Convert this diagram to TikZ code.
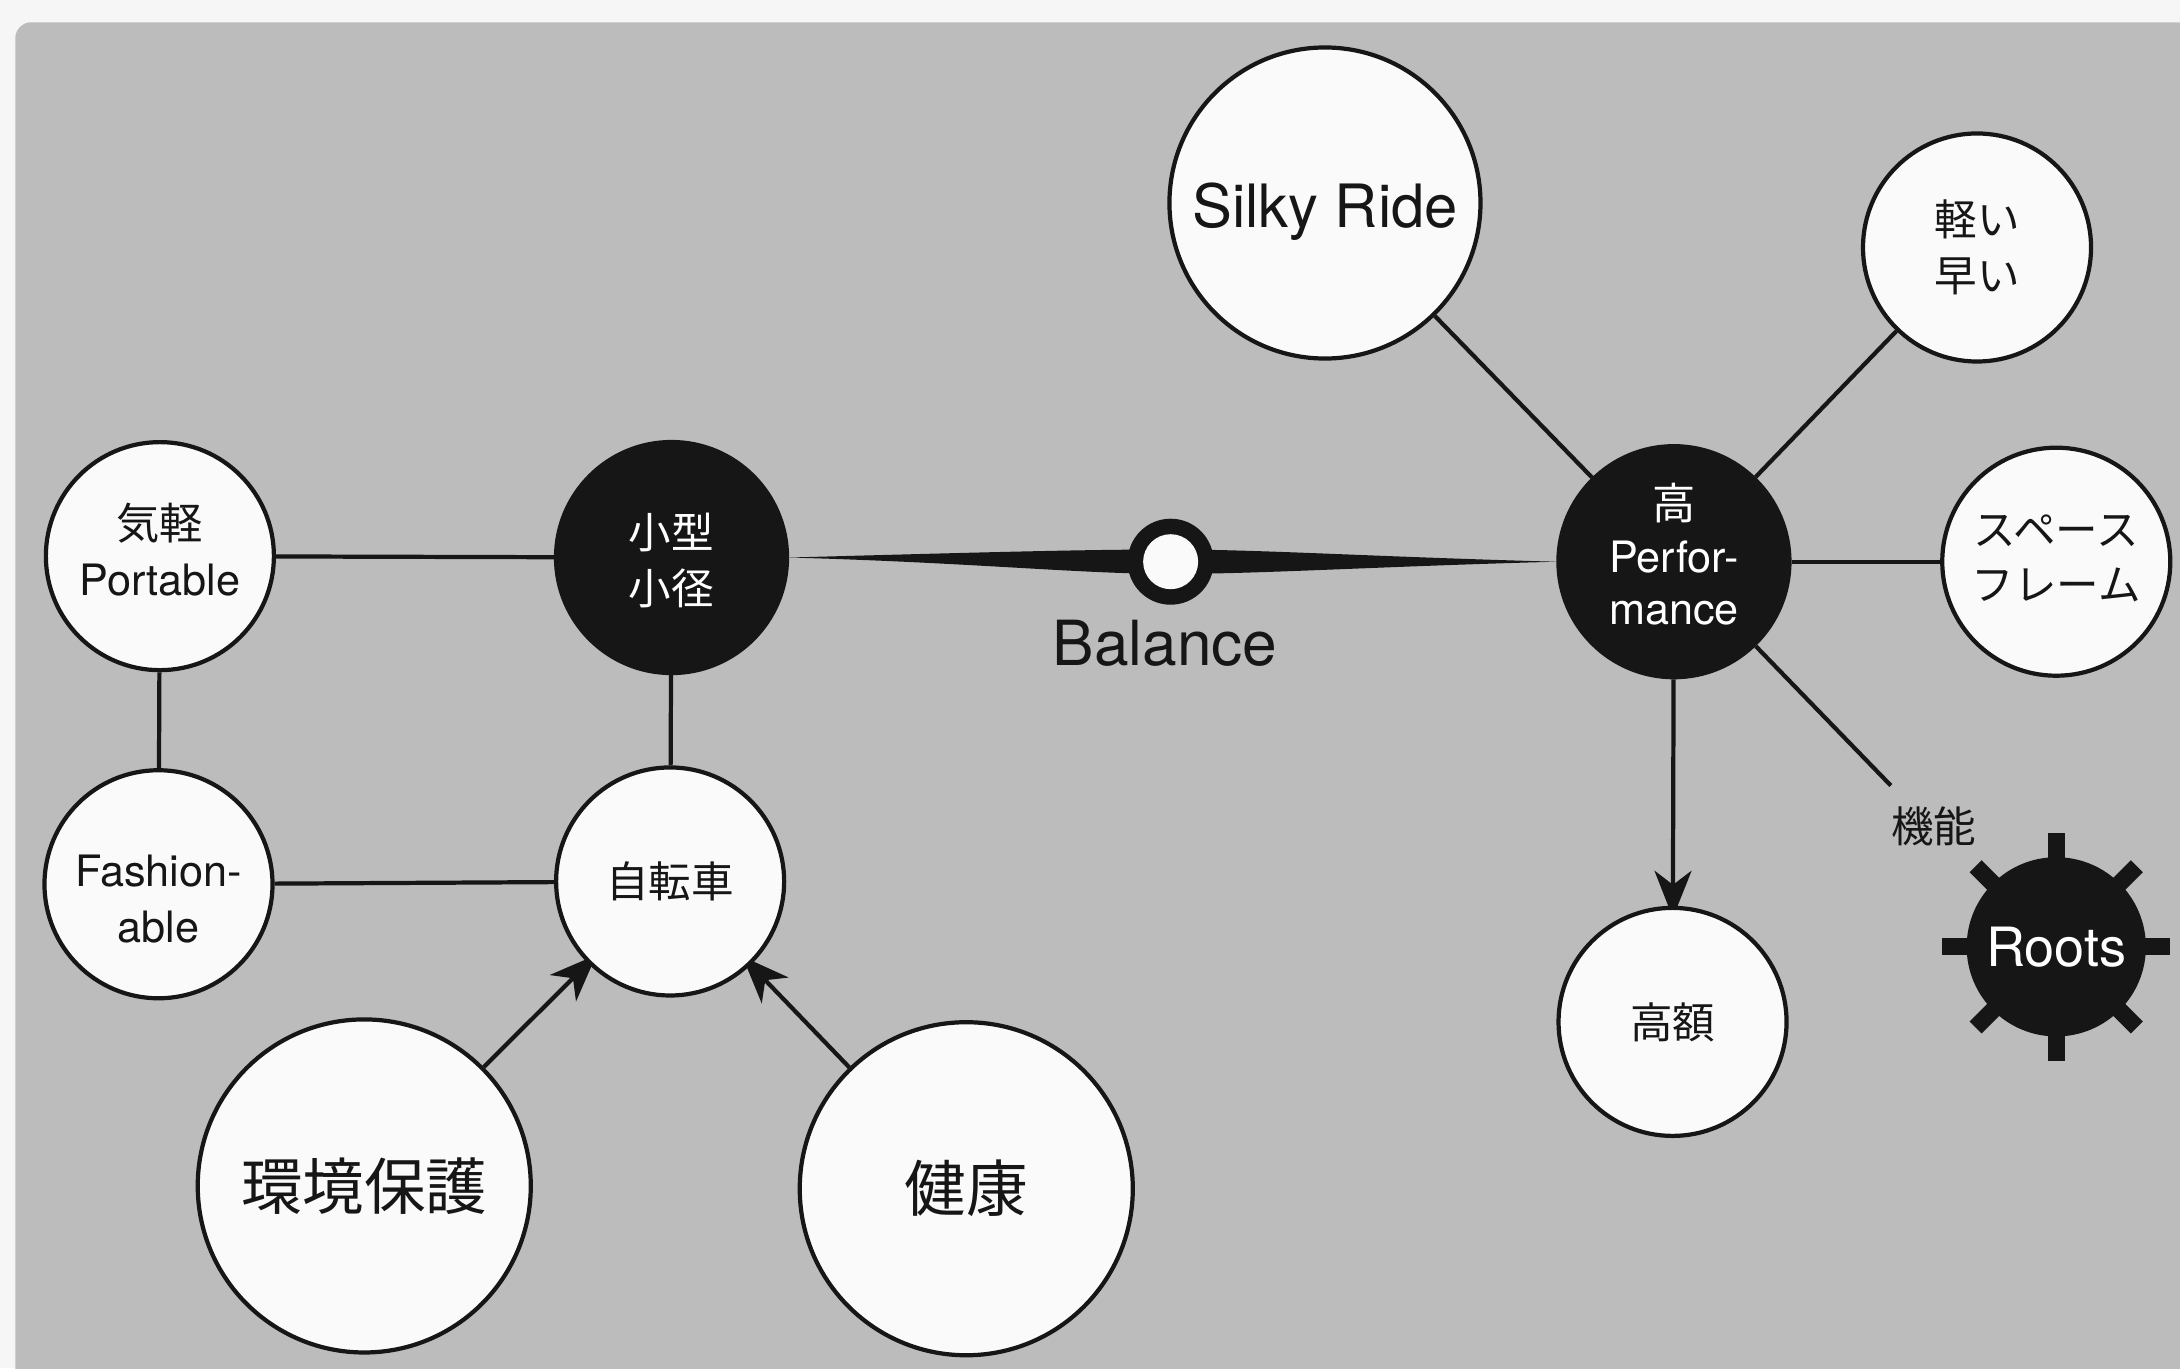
\documentclass[tikz,border=0pt]{standalone}
\usepackage{fontspec}
\setmainfont{TeX Gyre Heros}
\newfontfamily\jp{Noto Sans CJK JP}
\usetikzlibrary{arrows.meta,calc}
\pgfdeclarelayer{back}
\pgfdeclarelayer{bg}
\pgfsetlayers{back,bg,main}
\definecolor{panel}{RGB}{188,188,188}
\definecolor{paper}{RGB}{246,246,246}
\definecolor{ink}{RGB}{22,22,22}
\definecolor{bubble}{RGB}{250,250,250}
% move a text block up (#1 = twice the shift) or down inside its node
\newcommand\txtup[2]{\raisebox{0pt}[\height][\dimexpr\depth+#1\relax]{\begin{tabular}{@{}c@{}}#2\end{tabular}}}
\newcommand\txtdown[2]{\raisebox{0pt}[\dimexpr\height+#1\relax][\depth]{\begin{tabular}{@{}c@{}}#2\end{tabular}}}
\begin{document}
\begin{tikzpicture}[x=0.013903cm, y=-0.013903cm,
  bub/.style={circle, draw=ink, line width=1.2pt, fill=bubble, inner sep=0pt, align=center, text=ink},
  hub/.style={circle, draw=ink, line width=1.2pt, fill=ink, inner sep=0pt, align=center, text=white},
  smallbub/.style={minimum size=2.28cm},
  hubsize/.style={minimum size=2.31cm},
  bigbub/.style={minimum size=3.33cm},
  link/.style={draw=ink, line width=1.2pt},
  arr/.style={link, shorten >=-0.12cm, -{Stealth[length=0.47cm, width=0.37cm, inset=0.14cm]}},
  latinsmall/.style={font=\fontsize{12.3}{15.8}\selectfont},
  jpsmall/.style={font=\fontsize{12.1}{15.8}\selectfont\jp},
  jpbig/.style={font=\fontsize{17.5}{20}\selectfont\jp},
]
\useasboundingbox (0,0) rectangle (1568,984);
\clip (0,0) rectangle (1568,984);

% nodes
\node[bub, smallbub, latinsmall] (port) at (115,400) {\txtup{0cm}{{\jp 気軽}\\Portable}};
\node[bub, smallbub, latinsmall] (fash) at (114,636) {\txtdown{0.38cm}{Fashion-\\able}};
\node[hub, hubsize, jpsmall] (kogata) at (483,401) {\txtdown{0.16cm}{小型\\小径}};
\node[bub, smallbub, jpsmall] (jitensha) at (482,634) {自転車};
\node[bub, bigbub, jpbig] (kankyo) at (262,853) {環境保護};
\node[bub, bigbub, jpbig] (kenko) at (695,855) {健康};
\node[bub, minimum size=3.11cm, font=\fontsize{17}{20}\selectfont] (silky) at (953,146) {\txtdown{0.21cm}{Silky Ride}};
\node[bub, smallbub, jpsmall] (karui) at (1422,178) {軽い\\早い};
\node[hub, hubsize, font=\fontsize{12.3}{15}\selectfont] (perf) at (1204,404) {\txtup{0cm}{{\jp 高}\\Perfor-\\mance}};
\node[bub, smallbub, jpsmall] (space) at (1479,404) {\txtup{0cm}{スペース\\フレーム}};
\node[bub, smallbub, jpsmall] (kogaku) at (1203,735) {高額};
\node[text=ink, jpsmall, inner sep=0pt] (kino) at (1391,594) {機能};
\coordinate (kinoend) at (1360,565);
\node[hub, minimum size=1.75cm, font=\fontsize{15.4}{18}\selectfont] (roots) at (1479,681) {Roots};

% balance
\coordinate (bal) at (842,404);
\node[text=ink, font=\fontsize{17.7}{20}\selectfont, inner sep=0pt] (ballabel) at (838,463) {Balance};

\begin{pgfonlayer}{back}
  \fill[paper] (0,0) rectangle (1568,984);
  \fill[panel, rounded corners=0.16cm] (11,16) rectangle (1580,1000);
\end{pgfonlayer}

\begin{pgfonlayer}{bg}
  % connectors
  \draw[link] (port) -- (kogata);
  \draw[link] (port) -- (fash);
  \draw[link] (fash) -- (jitensha);
  \draw[link] (kogata) -- (jitensha);
  \draw[arr] (kankyo) -- (jitensha);
  \draw[arr] (kenko) -- (jitensha);
  \draw[link] (silky) -- (perf);
  \draw[link] (karui) -- (perf);
  \draw[link] (perf) -- (space);
  \draw[arr] (perf) -- (kogaku);
  \draw[link] (perf) -- (kinoend);
  % spindle
  \fill[ink] (kogata.east) .. controls +(130,-3.5) and +(-65,0) .. ($(bal)+(0,-8.8)$)
     .. controls +(65,0) and +(-130,-3.5) .. (perf.west)
     .. controls +(-130,3.5) and +(65,0) .. ($(bal)+(0,8.8)$)
     .. controls +(-65,0) and +(130,3.5) .. (kogata.east) -- cycle;
  % gear spokes
  \foreach \a in {0,45,...,315}
    \draw[ink, line width=0.17cm] (roots.center) -- ++(\a:82);
\end{pgfonlayer}

\fill[ink] (bal) circle (0.43cm);
\fill[bubble] (bal) circle (0.275cm);
\end{tikzpicture}
\end{document}
